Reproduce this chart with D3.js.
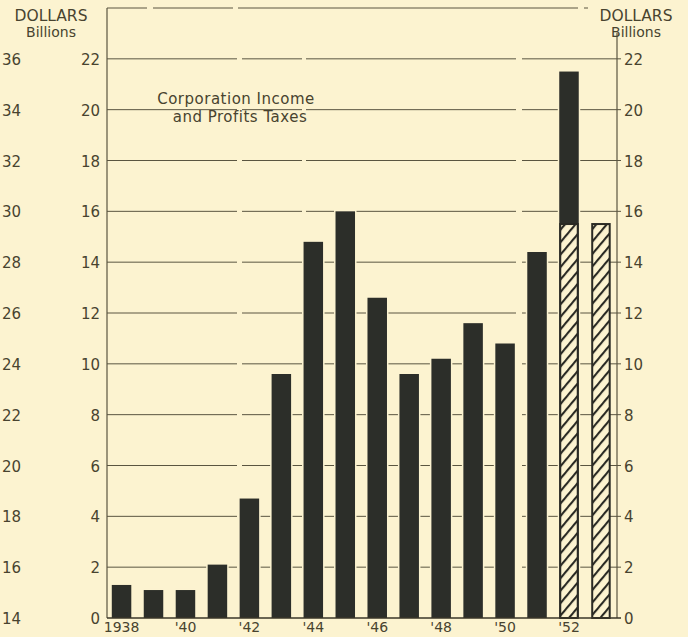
<!DOCTYPE html>
<html>
<head>
<meta charset="utf-8">
<script src="https://cdn.jsdelivr.net/npm/d3@7"></script>
<style>
  body { margin: 0; background: #fcf3d0; }
  svg text { font-family: "DejaVu Sans", sans-serif; fill: #48432f; }
</style>
</head>
<body>
<svg id="chart"></svg>
<script>
// data (billions of dollars)
const years = [1938, 1939, 1940, 1941, 1942, 1943, 1944, 1945, 1946, 1947, 1948, 1949, 1950, 1951, 1952, 1953];
const taxes = [1.3, 1.1, 1.1, 2.1, 4.7, 9.6, 14.8, 16.0, 12.6, 9.6, 10.2, 11.6, 10.8, 14.4, 21.5, 0];
const hatched = [0, 0, 0, 0, 0, 0, 0, 0, 0, 0, 0, 0, 0, 0, 15.5, 15.5];   // estimates, drawn with hatching
const yTicks = [0, 2, 4, 6, 8, 10, 12, 14, 16, 18, 20, 22];
const outerLabels = [14, 16, 18, 20, 22, 24, 26, 28, 30, 32, 34, 36];
const yearTicks = [1938, 1940, 1942, 1944, 1946, 1948, 1950, 1952];
const yearLabels = ["1938", "'40", "'42", "'44", "'46", "'48", "'50", "'52"];

const width = 688, height = 637;
const left = 107, right = 617, bottom = 618;

const svg = d3.select("#chart")
  .attr("width", width)
  .attr("height", height);

svg.append("rect").attr("width", width).attr("height", height).attr("fill", "#fcf3d0");

// scales
const y = d3.scaleLinear().domain([0, 24]).range([bottom, 8]);
const x = d3.scaleBand().domain(years).range([left, 615.5]).paddingInner(0.39).paddingOuter(0.15);

// hatch pattern for the estimated part
const pat = svg.append("defs").append("pattern")
  .attr("id", "hatch")
  .attr("patternUnits", "userSpaceOnUse")
  .attr("width", 8).attr("height", 8)
  .attr("patternTransform", "rotate(40)");
pat.append("rect").attr("width", 8).attr("height", 8).attr("fill", "#fcf3d0");
pat.append("line").attr("x1", 1).attr("y1", 0).attr("x2", 1).attr("y2", 8)
  .attr("stroke", "#2a2a24").attr("stroke-width", 2.2);

const ink = "#5a5540";

// gridlines, mostly solid with a few print breaks
svg.append("g").selectAll("line")
  .data(yTicks.filter(d => d > 0))
  .enter().append("line")
  .attr("x1", left).attr("x2", right + 4)
  .attr("y1", d => y(d)).attr("y2", d => y(d))
  .attr("stroke", ink).attr("stroke-width", 1)
  .attr("stroke-dasharray", "130,5,60,4,210,6");

// top frame line
svg.append("line")
  .attr("x1", left).attr("x2", 588)
  .attr("y1", y(24)).attr("y2", y(24))
  .attr("stroke", ink).attr("stroke-width", 1)
  .attr("stroke-dasharray", "40,6,80,5,300,0");

// left axis line
svg.append("line")
  .attr("x1", left).attr("x2", left)
  .attr("y1", y(24)).attr("y2", bottom)
  .attr("stroke", ink).attr("stroke-width", 1.2);

// right axis line
svg.append("line")
  .attr("x1", right).attr("x2", right)
  .attr("y1", 33).attr("y2", bottom)
  .attr("stroke", ink).attr("stroke-width", 1.2);

// solid bars; the cream outline breaks the gridlines around them
svg.append("g").selectAll("rect")
  .data(years.filter((d, i) => taxes[i] > 0))
  .enter().append("rect")
  .attr("x", d => x(d))
  .attr("width", x.bandwidth())
  .attr("y", d => y(taxes[years.indexOf(d)]))
  .attr("height", d => bottom - y(taxes[years.indexOf(d)]))
  .attr("fill", "#2c2e29")
  .attr("stroke", "#fcf3d0")
  .attr("stroke-width", 3)
  .attr("paint-order", "stroke");

// hatched (estimated) bars
svg.append("g").selectAll("rect")
  .data(years.filter((d, i) => hatched[i] > 0))
  .enter().append("rect")
  .attr("x", d => x(d) + 1)
  .attr("width", x.bandwidth() - 2)
  .attr("y", d => y(hatched[years.indexOf(d)]))
  .attr("height", d => bottom - y(hatched[years.indexOf(d)]))
  .attr("fill", "url(#hatch)")
  .attr("stroke", "#2a2a24")
  .attr("stroke-width", 2);

// baseline
svg.append("line")
  .attr("x1", left).attr("x2", right + 4)
  .attr("y1", bottom).attr("y2", bottom)
  .attr("stroke", "#3a3628").attr("stroke-width", 1.6);

const tickFont = "15px";

// left inner tick labels
svg.append("g").selectAll("text")
  .data(yTicks)
  .enter().append("text")
  .attr("x", 100)
  .attr("y", d => y(d) + 6)
  .attr("text-anchor", "end")
  .style("font-size", tickFont)
  .text(d => d);

// left outer tick labels
svg.append("g").selectAll("text")
  .data(outerLabels)
  .enter().append("text")
  .attr("x", 2)
  .attr("y", (d, i) => y(yTicks[i]) + 6)
  .style("font-size", tickFont)
  .text(d => d);

// right tick labels
svg.append("g").selectAll("text")
  .data(yTicks)
  .enter().append("text")
  .attr("x", 624)
  .attr("y", d => y(d) + 6)
  .style("font-size", tickFont)
  .text(d => d);

// year labels
svg.append("g").selectAll("text")
  .data(yearTicks)
  .enter().append("text")
  .attr("x", d => x(d) + x.bandwidth() / 2)
  .attr("y", 632)
  .attr("text-anchor", "middle")
  .style("font-size", "14px")
  .text((d, i) => yearLabels[i]);

// unit headings
[51, 636].forEach(cx => {
  svg.append("text").attr("x", cx).attr("y", 21).attr("text-anchor", "middle")
    .style("font-size", "15.5px").text("DOLLARS");
  svg.append("text").attr("x", cx).attr("y", 37).attr("text-anchor", "middle")
    .style("font-size", "14px").text("Billions");
});

// chart title
svg.append("text").attr("x", 236).attr("y", 104).attr("text-anchor", "middle")
  .style("font-size", "15px").style("letter-spacing", "0.5px").text("Corporation Income");
svg.append("text").attr("x", 240).attr("y", 122).attr("text-anchor", "middle")
  .style("font-size", "15px").style("letter-spacing", "0.5px").text("and Profits Taxes");
</script>
</body>
</html>
